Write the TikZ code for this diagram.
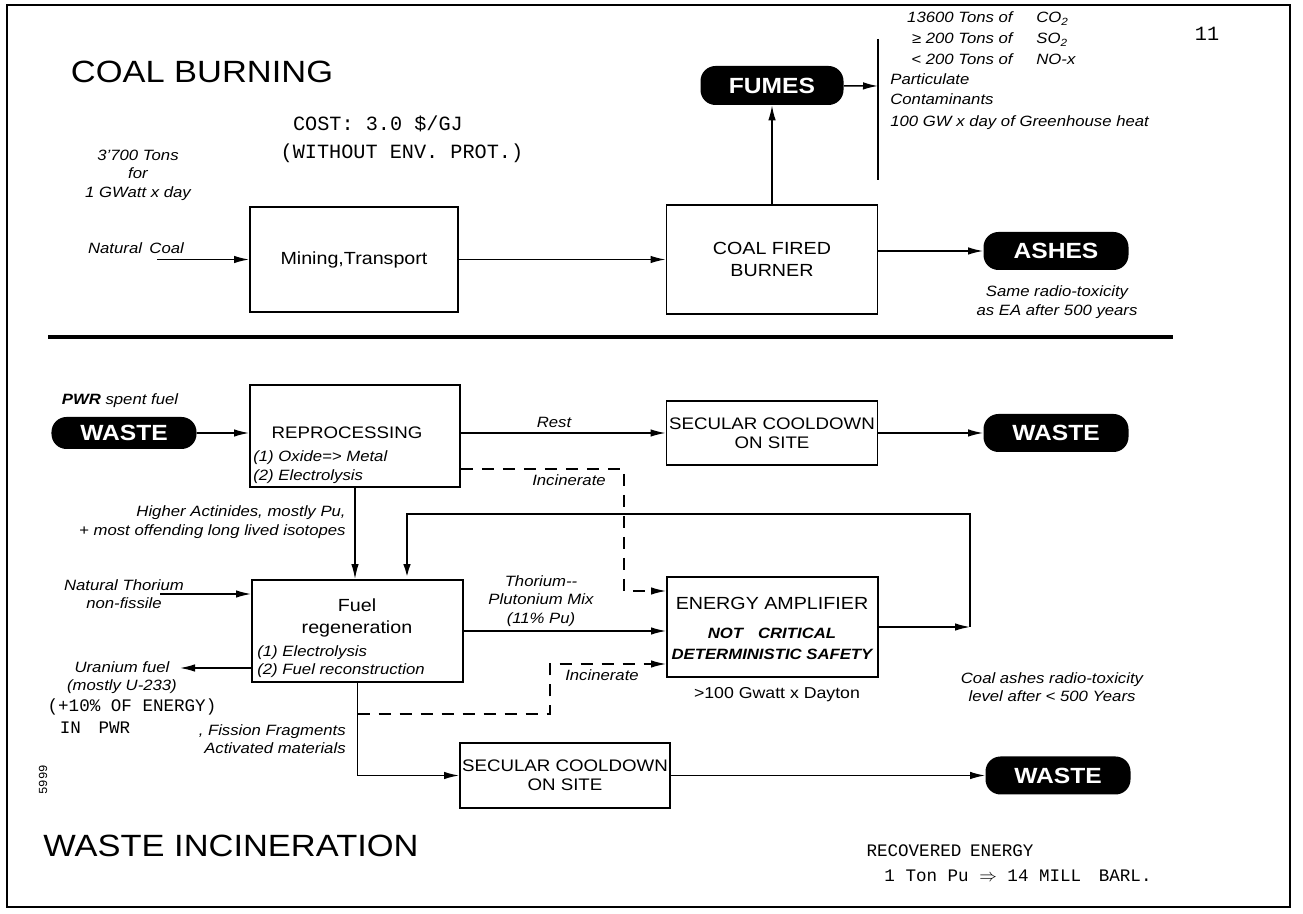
\documentclass[tikz,border=0pt]{standalone}
\usepackage{fontspec}
\setmainfont{Liberation Sans}[FakeStretch=1.12]
\newfontfamily\handfont{Liberation Mono}
\usetikzlibrary{arrows.meta,positioning,shapes.misc}

\newcommand{\procfont}{\fontsize{10}{13}\selectfont}
\newcommand{\smallprocfont}{\fontsize{9.5}{11}\selectfont}
\newcommand{\notefont}{\fontsize{8.5}{10.5}\selectfont\itshape}
\newcommand{\headfont}{\fontsize{17.5}{20}\selectfont}
\newcommand{\blobfont}{\fontsize{12.5}{14}\selectfont\bfseries}
\newcommand{\penfont}{\fontsize{11.5}{13}\selectfont\handfont}
\newcommand{\eafont}{\fontsize{8.5}{10}\selectfont\bfseries\itshape}

\begin{document}
\begin{tikzpicture}[
    x=0.2mm, y=-0.2mm,
    procbox/.style={rectangle, draw, line width=1.1pt, inner sep=0pt, font=\procfont, align=center},
    blob/.style={rectangle, rounded corners=3mm, fill=black, text=white, font=\blobfont, minimum width=29mm, minimum height=7.6mm, inner sep=0pt},
    flow/.style={-{Latex[length=3mm,width=1.5mm]}, line width=0.8pt},
    dashflow/.style={flow, dash pattern=on 2.4mm off 1.8mm},
    loopline/.style={line width=1.6pt},
    note/.style={font=\notefont, align=center, inner sep=0pt},
    penwrite/.style={font=\penfont, inner sep=0pt},
    heading/.style={font=\headfont, inner sep=0pt}
]
\useasboundingbox (0,0) rectangle (1303,914);

% Frame and divider
\draw[line width=1.4pt] (7,5) rectangle (1290,907);
\draw[line width=2.2pt] (48,337) -- (1173,337);

% ---------------- Coal burning ----------------
\node[heading] (coaltitle) at (202,72) {COAL BURNING};
\node[penwrite] (cost) at (378,124) {COST: 3.0 \$/GJ};
\node[penwrite] (costnote) at (402,153) {(WITHOUT ENV. PROT.)};
\node[penwrite] (pagenum) at (1207,34) {11};

\node[note] (coalqty) at (138,175) {3'700 Tons\\for\\1 GWatt x day};
\node[note] (natcoal) at (136,248) {Natural\enspace Coal};
\coordinate (coalin) at (157,259.5);

\node[procbox, minimum width=41.6mm, minimum height=21mm] (mining) at (354,259.5) {Mining,Transport};
\node[procbox, minimum width=42.2mm, minimum height=21.8mm] (burner) at (772,259.5) {COAL FIRED\\BURNER};
\node[blob, minimum width=28.6mm, minimum height=7.8mm] (fumes) at (772,85.5) {FUMES};
\node[blob] (ashes) at (1056,251) {ASHES};
\node[note] (ashnote) at (1057,302) {Same radio-toxicity\\as EA after 500 years};

% fumes list
\coordinate (bartop) at (878,39);
\coordinate (barbot) at (878,180);
\coordinate (barmid) at (878,86);
\foreach \qty/\gas/\yy in {13600 Tons of/CO\textsubscript{2}/23, {≥ 200 Tons of}/SO\textsubscript{2}/44, {< 200 Tons of}/NO-x/65} {
    \node[note, anchor=base east] at (1013,\yy) {\qty};
    \node[note, anchor=base west] at (1036,\yy) {\gas};
}
\foreach \line/\yy in {Particulate/85, Contaminants/105, 100 GW x day of Greenhouse heat/127} {
    \node[note, anchor=base west] at (890,\yy) {\line};
}

% connectors
\draw[flow] (coalin) -- (mining.west);
\draw[flow] (mining) -- (burner);
\draw[flow] (burner) -- (fumes);
\draw[flow] (fumes) -- (barmid);
\draw[line width=0.6pt] (bartop) -- (barbot);
\draw[flow] (burner.east |- ashes) -- (ashes);

% ---------------- Waste incineration ----------------
\node[note] (pwr) at (120,401) {\textbf{PWR} spent fuel};
\node[blob, minimum height=6.4mm] (wastein) at (124,433) {WASTE};

\node[procbox, minimum width=42mm, minimum height=20.4mm] (repro) at (355,436) {};
\node[font=\smallprocfont, inner sep=0pt] (reprotext) at (347,433) {REPROCESSING};
\node[note, align=left, anchor=west] (reprosteps) at (253,467) {(1) Oxide=> Metal\\(2) Electrolysis};

\node[procbox, font=\smallprocfont, minimum width=42.2mm, minimum height=12.8mm] (sectop) at (772,433) {SECULAR COOLDOWN\\ON SITE};
\node[blob] (wasteout) at (1056,433) {WASTE};

\node[procbox, minimum width=42.2mm, minimum height=20.4mm] (fuel) at (357.5,631) {};
\node[font=\procfont, align=center, inner sep=0pt] (fueltext) at (357,618) {Fuel\\regeneration};
\node[note, align=left, anchor=west] (fuelsteps) at (257,661.5) {(1) Electrolysis\\(2) Fuel reconstruction};

\node[procbox, minimum width=42.2mm, minimum height=20mm] (ea) at (772.5,627) {};
\node[font=\procfont, inner sep=0pt] (eatitle) at (772,603) {ENERGY AMPLIFIER};
\node[font=\eafont, inner sep=0pt] (eanote) at (772,633) {NOT\quad CRITICAL};
\node[font=\eafont, inner sep=0pt] (easafety) at (772,654) {DETERMINISTIC SAFETY};
\node[font=\fontsize{9}{11}\selectfont, inner sep=0pt] (eapower) at (777,695) {>100 Gwatt x Dayton};

\node[procbox, font=\smallprocfont, minimum width=42mm, minimum height=13mm] (secbot) at (565,775.5) {SECULAR COOLDOWN\\ON SITE};
\node[blob] (wastebot) at (1058,775.5) {WASTE};

% labels
\node[note] (rest) at (554,422) {Rest};
\node[note] (incin1) at (569,480) {Incinerate};
\node[note] (incin2) at (602,675) {Incinerate};
\node[note, align=right, anchor=east] (actinides) at (346,522) {Higher Actinides, mostly Pu,\\+ most offending long lived isotopes};
\node[note] (thorium) at (124,594) {Natural Thorium\\non-fissile};
\node[note] (uranium) at (122,677.5) {Uranium fuel\\(mostly U-233)};
\node[penwrite, font=\fontsize{10}{12}\selectfont\handfont] (energyshare) at (132,707) {(+10\% OF ENERGY)};
\node[penwrite, font=\fontsize{10}{12}\selectfont\handfont] (inpwr) at (95,728) {IN\quad PWR};
\node[note, align=right, anchor=east] (fission) at (346,739) {, Fission Fragments\\Activated materials};
\node[note] (mix) at (541,601) {Thorium-{}-\\Plutonium Mix\\(11\% Pu)};
\node[note] (ashlevel) at (1052,687) {Coal ashes radio-toxicity\\level after < 500 Years};

\node[heading] (wastetitle) at (231,846) {WASTE INCINERATION};
\node[penwrite, font=\fontsize{7}{8}\selectfont\handfont, rotate=90] (scanno) at (43,780) {5999};
\node[penwrite, font=\fontsize{10}{12}\selectfont\handfont] (recovered) at (950,851) {RECOVERED\enspace ENERGY};
\node[penwrite, font=\fontsize{10}{12}\selectfont\handfont] (tonpu) at (1018,876) {1 Ton Pu $\Rightarrow$ 14 MILL\quad BARL.};

% free ends
\coordinate (thin) at (160,594);
\coordinate (uout) at (180,668);
\coordinate (inc1) at (624,469);
\coordinate (inc2) at (624,591);
\coordinate (inc3) at (550,714);
\coordinate (inc4) at (550,664);
\coordinate (fbR) at (970,627);
\coordinate (fbL) at (407,514);

% connectors
\draw[flow] (wastein) -- (repro.west |- wastein);
\draw[flow] (repro.east |- sectop) -- (sectop);
\draw[flow] (sectop) -- (wasteout);
\draw[dashflow] (repro.east |- inc1) -- (inc1) -- (inc2) -- (ea.west |- inc2);
\draw[flow] (repro.south) -- (repro.south |- fuel.north);
\draw[flow] (thin) -- (fuel.west |- thin);
\draw[flow] (fuel.west |- uout) -- (uout);
\draw[flow] (fuel.east) -- (ea.west |- fuel.east);
\draw[dashflow] (fuel.south |- inc3) -- (inc3) -- (inc4) -- (ea.west |- inc4);
\draw[flow] (fuel.south) |- (secbot.west);
\draw[flow] (secbot) -- (wastebot);
\draw[flow] (ea.east) -- (fbR);
\draw[flow, loopline] (fbR) |- (fbL) -- (fbL |- fuel.north);

\end{tikzpicture}
\end{document}
